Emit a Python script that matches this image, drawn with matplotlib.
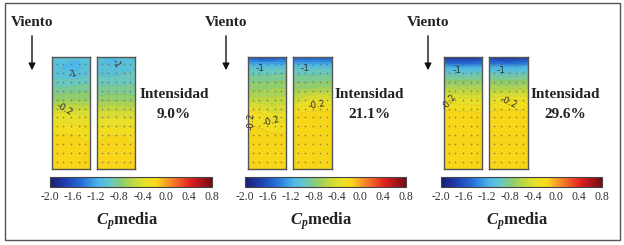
import numpy as np
import matplotlib
matplotlib.use("Agg")
import matplotlib.pyplot as plt
from matplotlib.patches import Rectangle, FancyArrowPatch
from matplotlib.cm import ScalarMappable
from matplotlib.colors import Normalize, LinearSegmentedColormap

plt.rcParams['font.family'] = ['Liberation Serif', 'DejaVu Serif']
plt.rcParams['mathtext.fontset'] = 'custom'
plt.rcParams['mathtext.it'] = 'Liberation Serif:italic:bold'
plt.rcParams['mathtext.rm'] = 'Liberation Serif:bold'

# turbulence intensity for each case
intensities = ["9.0%", "21.1%", "29.6%"]

rows = [0.0, 0.05, 0.1, 0.18, 0.27, 0.38, 0.5, 0.7, 1.0]
cols = [0.0, 0.35, 0.65, 1.0]

# mean Cp, face A (left) and face B (right) of each case
cp_1a = [[-1.04, -1.07, -1.08, -1.03],
         [-1.05, -1.10, -1.12, -1.04],
         [-1.05, -1.12, -1.14, -1.03],
         [-1.00, -1.04, -1.04, -0.98],
         [-0.90, -0.90, -0.88, -0.86],
         [-0.74, -0.72, -0.72, -0.72],
         [-0.42, -0.38, -0.42, -0.44],
         [-0.20, -0.19, -0.20, -0.21],
         [-0.17, -0.17, -0.17, -0.17]]
cp_1b = [[-1.06, -1.12, -1.07, -1.03],
         [-1.07, -1.13, -1.09, -1.04],
         [-1.04, -1.07, -1.05, -1.01],
         [-0.99, -1.00, -0.98, -0.96],
         [-0.90, -0.88, -0.88, -0.88],
         [-0.76, -0.74, -0.74, -0.76],
         [-0.46, -0.44, -0.44, -0.46],
         [-0.21, -0.20, -0.20, -0.21],
         [-0.17, -0.17, -0.17, -0.17]]
cp_2a = [[-1.55, -1.65, -1.65, -1.55],
         [-1.28, -1.32, -1.32, -1.28],
         [-1.02, -1.04, -1.02, -1.00],
         [-0.86, -0.88, -0.86, -0.84],
         [-0.74, -0.74, -0.72, -0.72],
         [-0.56, -0.58, -0.58, -0.56],
         [-0.24, -0.30, -0.40, -0.38],
         [-0.16, -0.16, -0.18, -0.18],
         [-0.15, -0.15, -0.16, -0.16]]
cp_2b = [[-1.55, -1.60, -1.60, -1.55],
         [-1.28, -1.30, -1.30, -1.28],
         [-1.02, -1.03, -1.03, -1.00],
         [-0.87, -0.87, -0.87, -0.85],
         [-0.74, -0.74, -0.72, -0.72],
         [-0.52, -0.40, -0.34, -0.38],
         [-0.22, -0.18, -0.17, -0.18],
         [-0.16, -0.15, -0.15, -0.16],
         [-0.15, -0.15, -0.15, -0.15]]
cp_3a = [[-1.80, -1.85, -1.85, -1.80],
         [-1.52, -1.56, -1.55, -1.50],
         [-1.14, -1.16, -1.14, -1.12],
         [-0.86, -0.88, -0.88, -0.86],
         [-0.62, -0.66, -0.66, -0.64],
         [-0.30, -0.36, -0.38, -0.38],
         [-0.17, -0.18, -0.18, -0.19],
         [-0.15, -0.15, -0.16, -0.16],
         [-0.15, -0.15, -0.15, -0.15]]
cp_3b = [[-1.80, -1.82, -1.82, -1.78],
         [-1.50, -1.53, -1.53, -1.48],
         [-1.12, -1.14, -1.14, -1.10],
         [-0.86, -0.88, -0.88, -0.85],
         [-0.64, -0.66, -0.66, -0.64],
         [-0.38, -0.32, -0.30, -0.34],
         [-0.18, -0.17, -0.17, -0.18],
         [-0.15, -0.15, -0.15, -0.16],
         [-0.15, -0.15, -0.15, -0.15]]

# pressure tap layout on each face
tap_x = [0.12, 0.3, 0.5, 0.7, 0.88]
tap_y = [0.06, 0.14, 0.22, 0.3, 0.38, 0.46, 0.54, 0.62, 0.7, 0.78, 0.86, 0.94]

cbar_ticks = [-2.0, -1.6, -1.2, -0.8, -0.4, 0.0, 0.4, 0.8]

# contour labels written on each face: (text, x, y, rotation)
face_labels = [
    [("-1", 0.55, 0.15, 20), ("-0.2", 0.32, 0.47, -30)],
    [("-1", 0.5, 0.06, -60)],
    [("-1", 0.32, 0.1, 0), ("-0.2", 0.08, 0.57, 90), ("-0.2", 0.62, 0.57, 15)],
    [("-1", 0.32, 0.1, 0), ("-0.2", 0.6, 0.43, 10)],
    [("-1", 0.35, 0.12, 0), ("-0.2", 0.15, 0.4, 50)],
    [("-1", 0.3, 0.12, 0), ("-0.2", 0.5, 0.41, -25)],
]

W, H = 624, 245
fig = plt.figure(figsize=(W / 100, H / 100), dpi=100)


def px_axes(x0, y0, x1, y1):
    return fig.add_axes([x0 / W, 1 - y1 / H, (x1 - x0) / W, (y1 - y0) / H])


# jet-like palette as printed in the figure
cmap = LinearSegmentedColormap.from_list('cp', [
    (0.00, (0.10, 0.12, 0.45)),
    (0.10, (0.12, 0.25, 0.70)),
    (0.20, (0.15, 0.45, 0.85)),
    (0.30, (0.30, 0.72, 0.92)),
    (0.37, (0.40, 0.78, 0.78)),
    (0.44, (0.55, 0.80, 0.45)),
    (0.52, (0.76, 0.85, 0.25)),
    (0.60, (0.93, 0.88, 0.15)),
    (0.66, (0.97, 0.85, 0.10)),
    (0.72, (0.97, 0.62, 0.15)),
    (0.80, (0.95, 0.35, 0.15)),
    (0.87, (0.88, 0.12, 0.12)),
    (1.00, (0.45, 0.05, 0.08)),
])
norm = Normalize(vmin=-2.0, vmax=0.8)
fill_levels = np.arange(-2.0, 0.81, 0.1)

faces = [cp_1a, cp_1b, cp_2a, cp_2b, cp_3a, cp_3b]
face_x = [(52, 90), (97, 135), (248, 286), (293, 332), (444, 482), (489, 528)]
cbar_x = [(50, 212), (245, 406), (441, 602)]
viento_x = [32, 226, 428]
inten_x = [174, 369, 565]

X, Y = np.meshgrid(cols, rows)
TX, TY = np.meshgrid(tap_x, tap_y)

for k, (cp, (x0, x1)) in enumerate(zip(faces, face_x)):
    ax = px_axes(x0, 57, x1, 169)
    Z = np.array(cp)
    ax.contourf(X, Y, Z, levels=fill_levels, cmap=cmap, norm=norm)
    ax.contour(X, Y, Z, levels=fill_levels, colors='#556', linewidths=0.3, alpha=0.25)
    for txt, lx, ly, rot in face_labels[k]:
        ax.text(lx, ly, txt, fontsize=6.5, color='#333333', rotation=rot,
                ha='center', va='center', family='DejaVu Sans')
    ax.scatter(TX.ravel(), TY.ravel(), s=1.5, c='#666655', alpha=0.7, lw=0)
    ax.set_xlim(0, 1)
    ax.set_ylim(1, 0)
    ax.set_xticks([])
    ax.set_yticks([])
    for s in ax.spines.values():
        s.set_color('#555555')
        s.set_linewidth(1.0)

for i in range(3):
    x0, x1 = cbar_x[i]
    cax = px_axes(x0, 177, x1, 187)
    cb = fig.colorbar(ScalarMappable(norm=norm, cmap=cmap), cax=cax,
                      orientation='horizontal', ticks=cbar_ticks)
    cb.ax.set_xticklabels(['%.1f' % t for t in cbar_ticks])
    cb.ax.tick_params(length=0, labelsize=8.5, pad=3, labelcolor='#333333')
    cb.outline.set_edgecolor('#444444')
    cb.outline.set_linewidth(0.8)

    fig.text((x0 + x1) / 2 / W - 4 / W, 1 - 221 / H, r'$C_p$media',
             ha='center', va='center', fontsize=12, fontweight='bold', color='#222222')

    vx = viento_x[i]
    fig.text(vx / W, 1 - 23 / H, 'Viento', ha='center', va='center',
             fontsize=11, fontweight='bold', color='#222222')
    fig.add_artist(FancyArrowPatch((vx / W, 1 - 33 / H), (vx / W, 1 - 73 / H),
                                   transform=fig.transFigure, arrowstyle='-|>',
                                   mutation_scale=10, lw=1.0, color='#111111'))

    ix = inten_x[i]
    fig.text(ix / W, 1 - 95 / H, 'Intensidad', ha='center', va='center',
             fontsize=11, fontweight='bold', color='#222222')
    fig.text(ix / W, 1 - 114 / H, intensities[i], ha='center', va='center',
             fontsize=11, fontweight='bold', color='#222222')

fig.add_artist(Rectangle((5 / W, 1 - 240 / H), 615 / W, 237 / H, transform=fig.transFigure,
                         fill=False, edgecolor='#555555', lw=1.0))

fig.savefig('out.png', dpi=100)
